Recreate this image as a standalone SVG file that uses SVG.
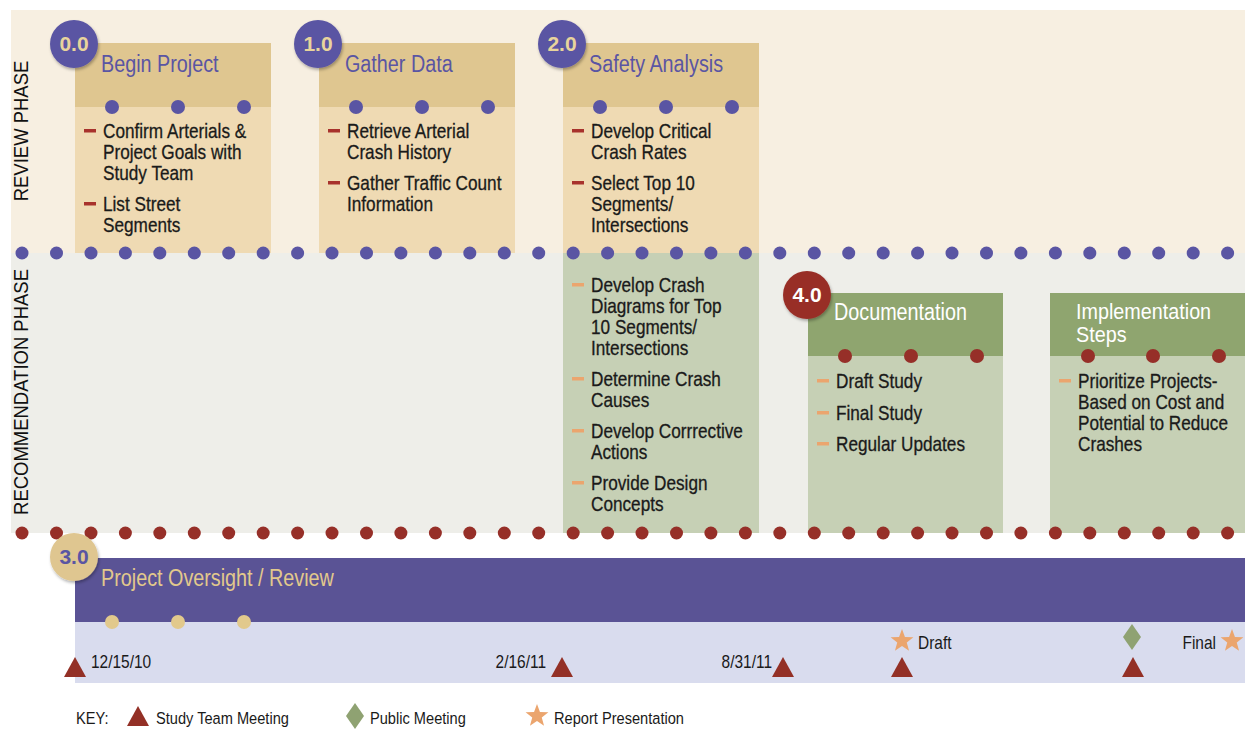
<svg xmlns="http://www.w3.org/2000/svg" width="1245" height="729" viewBox="0 0 1245 729">
<style>
text{font-family:"Liberation Sans",Arial,sans-serif;}
.t{font-size:20px;fill:#1a1a1a;stroke:#1a1a1a;stroke-width:0.3px;}
.title{font-size:23px;}
.title2{font-size:21.5px;}
.badge{font-size:21px;font-weight:bold;text-anchor:middle;}
.phase{font-size:21px;fill:#111;text-anchor:middle;}
.date{font-size:18px;fill:#1a1a1a;}
.key{font-size:17px;fill:#1a1a1a;}
.t,.title,.date,.key{transform:scaleX(0.86);transform-box:fill-box;transform-origin:0 0;}
.title2{transform:scaleX(0.92);transform-box:fill-box;transform-origin:0 0;}
.end{text-anchor:end;transform-origin:100% 0 !important;}
.pd{fill:#5a55a3;}
.rd{fill:#962f28;}
.td{fill:#e2c98c;}
.dashR{fill:#a8322c;}
.dashO{fill:#eba56e;}
</style>
<defs>
<path id="tri" d="M-11,10 L0,-10 L11,10 Z" fill="#933026"/>
<path id="star" d="M0,-12 L2.94,-4.05 L11.41,-3.71 L4.76,1.55 L7.05,9.71 L0,5 L-7.05,9.71 L-4.76,1.55 L-11.41,-3.71 L-2.94,-4.05 Z" fill="#eba56e"/>
<path id="dia" d="M0,-13 L9,0 L0,13 L-9,0 Z" fill="#8fa272"/>
<filter id="sh" x="-30%" y="-30%" width="160%" height="160%"><feDropShadow dx="1" dy="2" stdDeviation="1.5" flood-color="#000" flood-opacity="0.3"/></filter>
</defs>
<rect width="1245" height="729" fill="#ffffff"/>
<!-- phase backgrounds -->
<rect x="11" y="10" width="1234" height="243" fill="#f7efe1"/>
<rect x="11" y="253" width="1234" height="280" fill="#eeeee9"/>
<text class="phase" transform="translate(28,131) rotate(-90) scale(0.88,1)">REVIEW PHASE</text>
<text class="phase" transform="translate(28,392) rotate(-90) scale(0.88,1)">RECOMMENDATION PHASE</text>

<!-- Node 0.0 -->
<g id="node-0">
<rect x="75" y="43" width="196" height="64" fill="#dfc690"/>
<rect x="75" y="107" width="196" height="146" fill="#efdab3"/>
<text class="title" x="101" y="72" fill="#5a55a3">Begin Project</text>
<circle class="pd" cx="112" cy="107" r="7"/><circle class="pd" cx="178" cy="107" r="7"/><circle class="pd" cx="244" cy="107" r="7"/>
<rect class="dashR" x="84" y="129" width="12" height="3.5"/>
<text class="t" x="103" y="138">Confirm Arterials &amp;</text>
<text class="t" x="103" y="159">Project Goals with</text>
<text class="t" x="103" y="180">Study Team</text>
<rect class="dashR" x="84" y="202" width="12" height="3.5"/>
<text class="t" x="103" y="211">List Street</text>
<text class="t" x="103" y="232">Segments</text>
<circle cx="74" cy="44" r="24" fill="#5a55a3" filter="url(#sh)"/>
<text class="badge" x="74" y="51" fill="#e8d49c">0.0</text>
</g>

<!-- Node 1.0 -->
<g id="node-1">
<rect x="319" y="43" width="196" height="64" fill="#dfc690"/>
<rect x="319" y="107" width="196" height="146" fill="#efdab3"/>
<text class="title" x="345" y="72" fill="#5a55a3">Gather Data</text>
<circle class="pd" cx="356" cy="107" r="7"/><circle class="pd" cx="422" cy="107" r="7"/><circle class="pd" cx="488" cy="107" r="7"/>
<rect class="dashR" x="328" y="129" width="12" height="3.5"/>
<text class="t" x="347" y="138">Retrieve Arterial</text>
<text class="t" x="347" y="159">Crash History</text>
<rect class="dashR" x="328" y="181" width="12" height="3.5"/>
<text class="t" x="347" y="190">Gather Traffic Count</text>
<text class="t" x="347" y="211">Information</text>
<circle cx="318" cy="44" r="24" fill="#5a55a3" filter="url(#sh)"/>
<text class="badge" x="318" y="51" fill="#e8d49c">1.0</text>
</g>

<!-- Node 2.0 -->
<g id="node-2">
<rect x="563" y="43" width="196" height="64" fill="#dfc690"/>
<rect x="563" y="107" width="196" height="146" fill="#efdab3"/>
<rect x="563" y="253" width="196" height="280" fill="#c6d0b5"/>
<text class="title" x="589" y="72" fill="#5a55a3">Safety Analysis</text>
<circle class="pd" cx="600" cy="107" r="7"/><circle class="pd" cx="666" cy="107" r="7"/><circle class="pd" cx="732" cy="107" r="7"/>
<rect class="dashR" x="572" y="129" width="12" height="3.5"/>
<text class="t" x="591" y="138">Develop Critical</text>
<text class="t" x="591" y="159">Crash Rates</text>
<rect class="dashR" x="572" y="181" width="12" height="3.5"/>
<text class="t" x="591" y="190">Select Top 10</text>
<text class="t" x="591" y="211">Segments/</text>
<text class="t" x="591" y="232">Intersections</text>
<rect class="dashO" x="572" y="283" width="12" height="3.5"/>
<text class="t" x="591" y="292">Develop Crash</text>
<text class="t" x="591" y="313">Diagrams for Top</text>
<text class="t" x="591" y="334">10 Segments/</text>
<text class="t" x="591" y="355">Intersections</text>
<rect class="dashO" x="572" y="377" width="12" height="3.5"/>
<text class="t" x="591" y="386">Determine Crash</text>
<text class="t" x="591" y="407">Causes</text>
<rect class="dashO" x="572" y="429" width="12" height="3.5"/>
<text class="t" x="591" y="438">Develop Corrrective</text>
<text class="t" x="591" y="459">Actions</text>
<rect class="dashO" x="572" y="481" width="12" height="3.5"/>
<text class="t" x="591" y="490">Provide Design</text>
<text class="t" x="591" y="511">Concepts</text>
<circle cx="562" cy="44" r="24" fill="#5a55a3" filter="url(#sh)"/>
<text class="badge" x="562" y="51" fill="#e8d49c">2.0</text>
</g>

<!-- Node 4.0 -->
<g id="node-4">
<rect x="808" y="293" width="195" height="63" fill="#8fa56f"/>
<rect x="808" y="356" width="195" height="177" fill="#c6d0b5"/>
<text class="title" x="834" y="320" fill="#ffffff">Documentation</text>
<circle class="rd" cx="845" cy="356" r="7"/><circle class="rd" cx="911" cy="356" r="7"/><circle class="rd" cx="977" cy="356" r="7"/>
<rect class="dashO" x="817" y="379" width="12" height="3.5"/>
<text class="t" x="836" y="388">Draft Study</text>
<rect class="dashO" x="817" y="411" width="12" height="3.5"/>
<text class="t" x="836" y="420">Final Study</text>
<rect class="dashO" x="817" y="442" width="12" height="3.5"/>
<text class="t" x="836" y="451">Regular Updates</text>
<circle cx="807" cy="295" r="24" fill="#982f28" filter="url(#sh)"/>
<text class="badge" x="807" y="302" fill="#ffffff">4.0</text>
</g>

<!-- Implementation Steps -->
<g id="node-impl">
<rect x="1050" y="293" width="195" height="63" fill="#8fa56f"/>
<rect x="1050" y="356" width="195" height="177" fill="#c6d0b5"/>
<text class="title2" x="1076" y="319" fill="#ffffff">Implementation</text>
<text class="title2" x="1076" y="342" fill="#ffffff">Steps</text>
<circle class="rd" cx="1088" cy="356" r="7"/><circle class="rd" cx="1153" cy="356" r="7"/><circle class="rd" cx="1219" cy="356" r="7"/>
<rect class="dashO" x="1059" y="379" width="12" height="3.5"/>
<text class="t" x="1078" y="388">Prioritize Projects-</text>
<text class="t" x="1078" y="409">Based on Cost and</text>
<text class="t" x="1078" y="430">Potential to Reduce</text>
<text class="t" x="1078" y="451">Crashes</text>
</g>

<!-- Dotted phase dividers -->
<g id="connectors">
<g class="pd">
<circle cx="22" cy="253" r="6.5"/><circle cx="56.5" cy="253" r="6.5"/><circle cx="91" cy="253" r="6.5"/><circle cx="125.4" cy="253" r="6.5"/><circle cx="159.8" cy="253" r="6.5"/><circle cx="194.3" cy="253" r="6.5"/><circle cx="228.7" cy="253" r="6.5"/><circle cx="263.2" cy="253" r="6.5"/><circle cx="297.6" cy="253" r="6.5"/><circle cx="332" cy="253" r="6.5"/><circle cx="366.5" cy="253" r="6.5"/><circle cx="400.9" cy="253" r="6.5"/><circle cx="435.4" cy="253" r="6.5"/><circle cx="469.8" cy="253" r="6.5"/><circle cx="504.3" cy="253" r="6.5"/><circle cx="538.7" cy="253" r="6.5"/><circle cx="573.2" cy="253" r="6.5"/><circle cx="607.6" cy="253" r="6.5"/><circle cx="642" cy="253" r="6.5"/><circle cx="676.5" cy="253" r="6.5"/><circle cx="710.9" cy="253" r="6.5"/><circle cx="745.4" cy="253" r="6.5"/><circle cx="779.8" cy="253" r="6.5"/><circle cx="814.3" cy="253" r="6.5"/><circle cx="848.7" cy="253" r="6.5"/><circle cx="883.2" cy="253" r="6.5"/><circle cx="917.6" cy="253" r="6.5"/><circle cx="952" cy="253" r="6.5"/><circle cx="986.5" cy="253" r="6.5"/><circle cx="1020.9" cy="253" r="6.5"/><circle cx="1055.4" cy="253" r="6.5"/><circle cx="1089.8" cy="253" r="6.5"/><circle cx="1124.3" cy="253" r="6.5"/><circle cx="1158.7" cy="253" r="6.5"/><circle cx="1193.2" cy="253" r="6.5"/><circle cx="1227.6" cy="253" r="6.5"/>
</g>
<g class="rd">
<circle cx="22" cy="533" r="6.5"/><circle cx="56.5" cy="533" r="6.5"/><circle cx="91" cy="533" r="6.5"/><circle cx="125.4" cy="533" r="6.5"/><circle cx="159.8" cy="533" r="6.5"/><circle cx="194.3" cy="533" r="6.5"/><circle cx="228.7" cy="533" r="6.5"/><circle cx="263.2" cy="533" r="6.5"/><circle cx="297.6" cy="533" r="6.5"/><circle cx="332" cy="533" r="6.5"/><circle cx="366.5" cy="533" r="6.5"/><circle cx="400.9" cy="533" r="6.5"/><circle cx="435.4" cy="533" r="6.5"/><circle cx="469.8" cy="533" r="6.5"/><circle cx="504.3" cy="533" r="6.5"/><circle cx="538.7" cy="533" r="6.5"/><circle cx="573.2" cy="533" r="6.5"/><circle cx="607.6" cy="533" r="6.5"/><circle cx="642" cy="533" r="6.5"/><circle cx="676.5" cy="533" r="6.5"/><circle cx="710.9" cy="533" r="6.5"/><circle cx="745.4" cy="533" r="6.5"/><circle cx="779.8" cy="533" r="6.5"/><circle cx="814.3" cy="533" r="6.5"/><circle cx="848.7" cy="533" r="6.5"/><circle cx="883.2" cy="533" r="6.5"/><circle cx="917.6" cy="533" r="6.5"/><circle cx="952" cy="533" r="6.5"/><circle cx="986.5" cy="533" r="6.5"/><circle cx="1020.9" cy="533" r="6.5"/><circle cx="1055.4" cy="533" r="6.5"/><circle cx="1089.8" cy="533" r="6.5"/><circle cx="1124.3" cy="533" r="6.5"/><circle cx="1158.7" cy="533" r="6.5"/><circle cx="1193.2" cy="533" r="6.5"/><circle cx="1227.6" cy="533" r="6.5"/>
</g>
</g>

<!-- Node 3.0 oversight -->
<g id="node-3">
<rect x="75" y="558" width="1170" height="64" fill="#5a5395"/>
<rect x="75" y="622" width="1170" height="61" fill="#d9dcee"/>
<text class="title" x="101" y="586" fill="#e2c98c">Project Oversight / Review</text>
<circle class="td" cx="112" cy="622" r="7"/><circle class="td" cx="178" cy="622" r="7"/><circle class="td" cx="244" cy="622" r="7"/>
<circle cx="74" cy="557" r="24" fill="#dfc690" filter="url(#sh)"/>
<text class="badge" x="74" y="564" fill="#5a55a3">3.0</text>
</g>

<!-- Timeline markers -->
<g id="timeline">
<use href="#tri" x="75" y="667"/>
<text class="date" x="91" y="668">12/15/10</text>
<use href="#tri" x="562" y="667"/>
<text class="date end" x="546" y="668">2/16/11</text>
<use href="#tri" x="783" y="667"/>
<text class="date end" x="772" y="668">8/31/11</text>
<use href="#star" x="902" y="641"/>
<text class="date" x="918" y="649">Draft</text>
<use href="#tri" x="902" y="667"/>
<use href="#dia" x="1132" y="637"/>
<use href="#tri" x="1133" y="667"/>
<text class="date end" x="1216" y="649">Final</text>
<use href="#star" x="1232" y="641"/>
</g>

<!-- Key -->
<g id="key">
<text class="key" x="76" y="724">KEY:</text>
<use href="#tri" x="138" y="716"/>
<text class="key" x="156" y="724">Study Team Meeting</text>
<use href="#dia" x="355" y="716"/>
<text class="key" x="370" y="724">Public Meeting</text>
<use href="#star" x="537" y="716"/>
<text class="key" x="554" y="724">Report Presentation</text>
</g>
</svg>
